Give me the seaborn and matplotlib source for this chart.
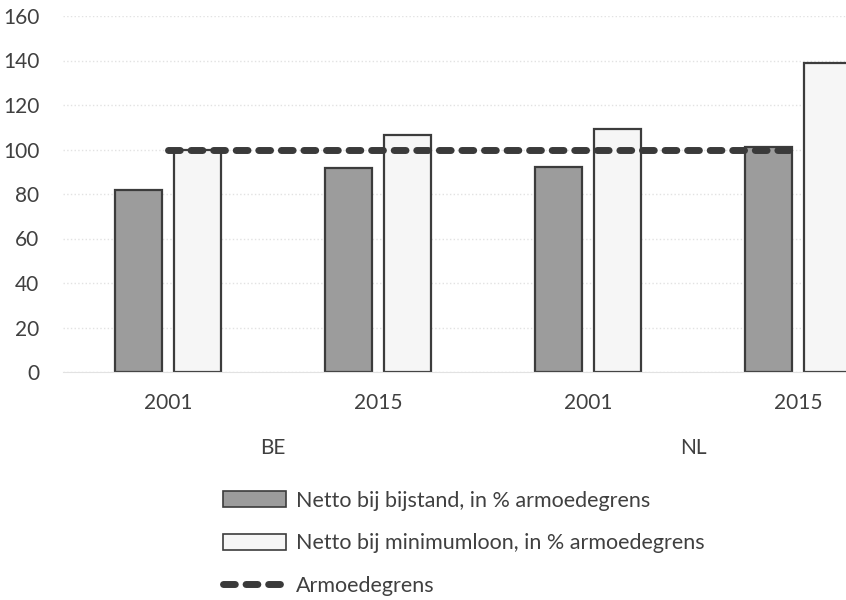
import numpy as np
import pandas as pd
import matplotlib
matplotlib.use("Agg")
import matplotlib.pyplot as plt
import seaborn as sns
from matplotlib.patches import Patch
from matplotlib.lines import Line2D

# gegevens
landen = ["BE", "BE", "NL", "NL"]
jaren = ["2001", "2015", "2001", "2015"]
bijstand = [82, 91.5, 92, 101]
minimumloon = [100, 106.5, 109, 139]
armoedegrens = [100, 100, 100, 100]

lbl_bijstand = "Netto bij bijstand, in % armoedegrens"
lbl_minloon = "Netto bij minimumloon, in % armoedegrens"
lbl_grens = "Armoedegrens"

cats = [l + " " + j for l, j in zip(landen, jaren)]
df = pd.DataFrame({
    "cat": cats * 2,
    "waarde": bijstand + minimumloon,
    "reeks": [lbl_bijstand] * 4 + [lbl_minloon] * 4,
})

sns.set_style("white")
plt.rcParams["font.family"] = ["Lato", "DejaVu Sans"]
tekst = "#404040"

fig = plt.figure(figsize=(8.46, 6.0), dpi=100)
ax = fig.add_axes([63 / 846, 1 - 372 / 600, 840 / 846, 356 / 600])

kleuren = {lbl_bijstand: "#9c9c9c", lbl_minloon: "#f6f6f6"}
sns.barplot(data=df, x="cat", y="waarde", hue="reeks", order=cats,
            palette=kleuren, width=0.56, gap=0.2, edgecolor="#3c3c3c",
            linewidth=1.6, legend=False, ax=ax, zorder=2)

sns.lineplot(x=np.arange(len(cats)), y=armoedegrens, ax=ax, color="#3a3a3a",
             linewidth=5, dashes=False, zorder=3)
ax.lines[-1].set_dashes((1.7, 1.55))
ax.lines[-1].set_dash_capstyle("round")

ax.set_xlim(-0.5, 3.5)
ax.set_ylim(0, 160)
ax.set_yticks(range(0, 161, 20))
ax.yaxis.grid(True, color="#e2e2e2", linestyle=":", linewidth=1.0, zorder=0)
ax.set_axisbelow(True)
for s in ["top", "right", "left"]:
    ax.spines[s].set_visible(False)
ax.spines["bottom"].set_color("#e2e2e2")
ax.set_xlabel("")
ax.set_ylabel("")
ax.set_xticks(range(len(cats)))
ax.set_xticklabels(jaren)
ax.tick_params(axis="x", length=0, pad=15, labelsize=15, labelcolor=tekst)
ax.tick_params(axis="y", length=0, pad=17, labelsize=15, labelcolor=tekst)

# landen onder de jaren
for land in ["BE", "NL"]:
    idx = [i for i, l in enumerate(landen) if l == land]
    ax.text(np.mean(idx), -34, land, ha="center", va="center", fontsize=15,
            color=tekst, transform=ax.transData, clip_on=False)

handles = [
    Patch(facecolor=kleuren[lbl_bijstand], edgecolor="#3c3c3c", linewidth=1.2),
    Patch(facecolor=kleuren[lbl_minloon], edgecolor="#3c3c3c", linewidth=1.2),
    Line2D([0], [0], color="#3a3a3a", linewidth=5, dashes=(1.7, 1.55),
           dash_capstyle="round"),
]
fig.legend(handles, [lbl_bijstand, lbl_minloon, lbl_grens], loc="upper left",
           bbox_to_anchor=(214 / 846, 1 - 482 / 600), frameon=False,
           fontsize=15.5, labelcolor=tekst, handlelength=2.95, handleheight=0.8,
           handletextpad=0.45, labelspacing=1.05, borderaxespad=0)

fig.savefig("out.png", dpi=100)
